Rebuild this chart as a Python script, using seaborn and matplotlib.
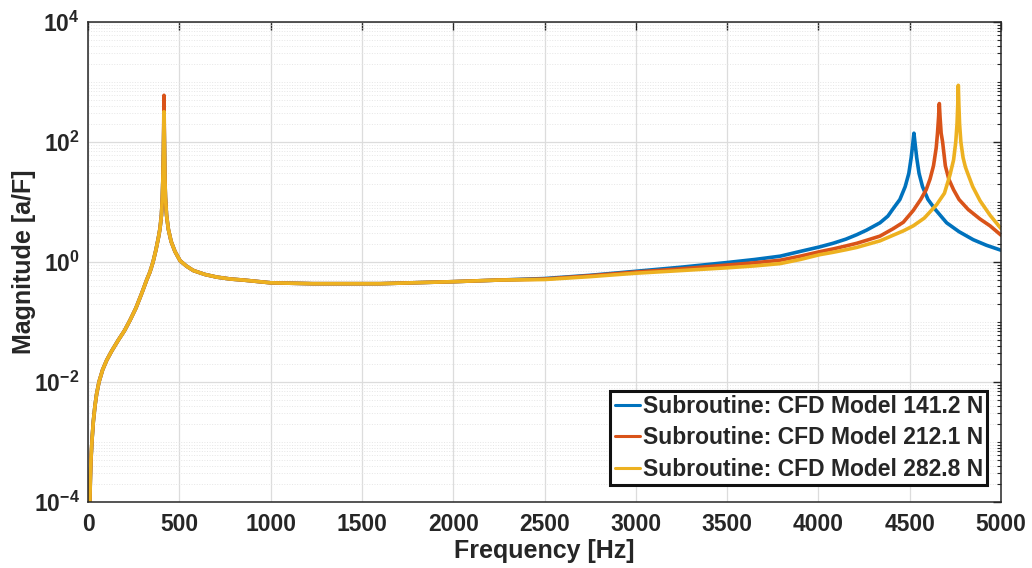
import matplotlib
matplotlib.use('Agg')
import matplotlib.pyplot as plt
import numpy as np
import pandas as pd
import seaborn as sns
from matplotlib.ticker import FixedLocator, NullFormatter

series_names = ['Subroutine: CFD Model 141.2 N',
                'Subroutine: CFD Model 212.1 N',
                'Subroutine: CFD Model 282.8 N']
series_colors = ['#0072BD', '#D95319', '#EDB120']

# part shared by all three runs, up to the first resonance
rise_freq = [4, 10, 13, 16, 22, 29, 38, 47, 60, 80, 102, 130, 166, 200, 230, 262, 294,
             321, 339, 356, 372, 386, 394, 402, 407, 410, 413]
rise_mag = [4e-5, 1.0e-4, 2.5e-4, 5e-4, 1.1e-3, 2.2e-3, 4e-3, 6.3e-3, 1.0e-2, 1.6e-2, 2.3e-2,
            3.3e-2, 5.0e-2, 7.2e-2, 0.107, 0.17, 0.30, 0.50, 0.68, 1.0, 1.6, 2.6, 3.6, 6.0,
            12, 25, 70]

first_peak_freq = 416
first_peak_mag = [320, 600, 320]

# shared part after the first resonance
fall_freq = [419, 421, 424, 430, 440, 455, 476, 504, 540, 577, 640, 705, 780, 850, 1000,
             1230, 1600, 2000, 2250]
fall_mag = [70, 25, 12, 6.0, 3.5, 2.2, 1.5, 1.05, 0.85, 0.72, 0.62, 0.56, 0.52, 0.50, 0.45,
            0.435, 0.435, 0.47, 0.50]

# second resonance, one per load case
tail_freq_blue = [2500, 2750, 3000, 3250, 3500, 3650, 3790, 3900, 4005, 4080, 4150, 4210,
                  4264, 4337, 4380, 4410, 4446, 4475, 4495, 4508, 4516, 4523, 4530, 4538,
                  4551, 4570, 4600, 4640, 4702, 4770, 4848, 4920, 5000]
tail_mag_blue = [0.53, 0.60, 0.70, 0.82, 0.98, 1.1, 1.25, 1.5, 1.78, 2.05, 2.4, 2.85,
                 3.4, 4.5, 5.8, 7.8, 11, 18, 30, 55, 90, 140, 90, 55,
                 30, 18, 11, 7.5, 4.5, 3.2, 2.35, 1.9, 1.57]

tail_freq_red = [2500, 2750, 3000, 3250, 3500, 3650, 3790, 3900, 4005, 4080, 4150, 4210,
                 4264, 4337, 4410, 4465, 4519, 4560, 4590, 4611, 4630, 4645, 4652, 4658,
                 4662, 4666, 4672, 4680, 4695, 4714, 4740, 4770, 4820, 4885, 4940, 5000]
tail_mag_red = [0.52, 0.59, 0.68, 0.77, 0.89, 0.97, 1.07, 1.25, 1.48, 1.65, 1.85, 2.05,
                2.3, 2.7, 3.6, 4.6, 7.2, 11, 16, 24, 40, 80, 140, 260,
                437, 260, 140, 100, 40, 24, 16, 11, 7.5, 5.2, 4.0, 2.8]

tail_freq_yellow = [2500, 2750, 3000, 3250, 3500, 3650, 3790, 3900, 4005, 4080, 4150, 4210,
                    4264, 4337, 4410, 4465, 4519, 4580, 4647, 4690, 4720, 4740, 4752, 4759,
                    4763, 4766, 4769, 4773, 4780, 4792, 4805, 4821, 4845, 4885, 4940, 5000]
tail_mag_yellow = [0.51, 0.57, 0.65, 0.72, 0.80, 0.86, 0.94, 1.1, 1.32, 1.45, 1.6, 1.75,
                   1.95, 2.25, 2.8, 3.3, 4.0, 5.4, 9.0, 14, 28, 50, 100, 200,
                   420, 880, 420, 200, 100, 55, 38, 28, 18, 10.5, 6.0, 3.6]

tails = [(tail_freq_blue, tail_mag_blue),
         (tail_freq_red, tail_mag_red),
         (tail_freq_yellow, tail_mag_yellow)]

rows = []
for name, peak, (tf, tm) in zip(series_names, first_peak_mag, tails):
    freqs = rise_freq + [first_peak_freq] + fall_freq + tf
    mags = rise_mag + [peak] + fall_mag + tm
    for f, m in zip(freqs, mags):
        rows.append({'freq': f, 'mag': m, 'series': name})
df = pd.DataFrame(rows)

sns.set_theme(style='white')
plt.rcParams['font.family'] = ['Liberation Sans', 'DejaVu Sans']
plt.rcParams['mathtext.fontset'] = 'custom'
plt.rcParams['mathtext.rm'] = 'Liberation Sans:bold'
plt.rcParams['mathtext.bf'] = 'Liberation Sans:bold'
plt.rcParams['mathtext.it'] = 'Liberation Sans:bold'

text_color = '#262626'

fig, ax = plt.subplots(figsize=(10.32, 5.68), dpi=100)
fig.subplots_adjust(left=0.0853, right=0.970, top=0.9613, bottom=0.1162)

sns.lineplot(data=df, x='freq', y='mag', hue='series', hue_order=series_names,
             palette=series_colors, linewidth=2.6, estimator=None, sort=False, ax=ax)
for line in ax.get_lines():
    line.set_solid_joinstyle('round')

ax.set_yscale('log')
ax.set_xlim(0, 5000)
ax.set_ylim(1e-4, 1e4)

ax.set_xticks(np.arange(0, 5001, 500))
ax.set_xticklabels([str(v) for v in range(0, 5001, 500)], fontsize=16.5, fontweight='bold',
                   color=text_color)
ax.yaxis.set_major_locator(FixedLocator([1e-4, 1e-2, 1e0, 1e2, 1e4]))
ax.set_yticklabels([r'$\mathbf{10^{-4}}$', r'$\mathbf{10^{-2}}$', r'$\mathbf{10^{0}}$',
                    r'$\mathbf{10^{2}}$', r'$\mathbf{10^{4}}$'], fontsize=16.5, color=text_color)
minor = [s * 10.0 ** k for k in range(-4, 4) for s in range(1, 10) if not (s == 1 and k % 2 == 0)]
ax.yaxis.set_minor_locator(FixedLocator(minor))
ax.yaxis.set_minor_formatter(NullFormatter())

ax.tick_params(which='both', direction='in', top=True, right=True, colors=text_color)
ax.tick_params(which='major', length=6, width=1.0)
ax.tick_params(axis='x', which='major', pad=8)
ax.tick_params(axis='y', which='major', pad=6)
ax.tick_params(which='minor', length=3, width=0.8)

ax.grid(which='major', color='#dcdcdc', linewidth=0.9)
ax.grid(which='minor', axis='y', color='#e6e6e6', linestyle=':', linewidth=0.7)
ax.set_axisbelow(True)

for sp in ax.spines.values():
    sp.set_color(text_color)
    sp.set_linewidth(1.1)

ax.set_xlabel('Frequency [Hz]', fontsize=18, fontweight='bold', color=text_color, labelpad=2)
ax.set_ylabel('Magnitude [a/F]', fontsize=18, fontweight='bold', color=text_color, labelpad=-1.5)

handles, labels = ax.get_legend_handles_labels()
leg = ax.legend(handles, labels, loc='lower right', bbox_to_anchor=(0.985, 0.035),
                borderaxespad=0, frameon=True, fancybox=False, framealpha=1,
                edgecolor='#111111', prop={'weight': 'bold', 'size': 16.5},
                handlelength=1.1, handletextpad=0.1, borderpad=0.2, labelspacing=0.36)
leg.get_frame().set_linewidth(2.2)
for line in leg.get_lines():
    line.set_linewidth(2.2)

plt.savefig('out.png', dpi=100)
